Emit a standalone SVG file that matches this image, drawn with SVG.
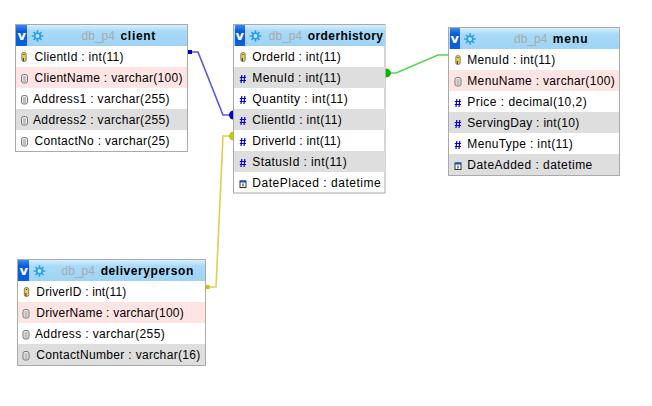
<svg xmlns="http://www.w3.org/2000/svg" xmlns:xlink="http://www.w3.org/1999/xlink" width="652" height="406" viewBox="0 0 652 406">
<style>
text{font-family:"Liberation Sans",Arial,sans-serif;font-size:12px;fill:#000}
.b{fill:#fff;stroke:#aaa;stroke-width:1}
.h{fill:url(#hg)}
.db{fill:#aaa}
.tn{font-weight:bold}
.pink{fill:#ffe4e4}
.grey{fill:#dedede}
.vb{fill:url(#vg)}
.v{font-family:"DejaVu Sans",sans-serif;font-size:13px;font-weight:bold;fill:#fff}
.c{fill:none;stroke-width:1.6;stroke-opacity:.7}
</style>
<defs>
<linearGradient id="hg" x1="0" y1="0" x2="0" y2="1"><stop offset="0" stop-color="#d8effc"/><stop offset=".3" stop-color="#a8daf8"/><stop offset="1" stop-color="#9fd3f5"/></linearGradient>
<linearGradient id="vg" x1="0" y1="0" x2="0" y2="1"><stop offset="0" stop-color="#3a8cf0"/><stop offset=".3" stop-color="#0a5ad8"/><stop offset="1" stop-color="#0a60e0"/></linearGradient>
<g id="gear"><path d="M0-5.800V5.800M-5.800 0H5.800M-4-4 4 4M-4 4 4-4" stroke="#2a9ee8" stroke-width="1.600"/><circle r="3.600" fill="#2a9ee8"/><circle r="1.900" fill="#bfe6fb"/></g>
<g id="key"><rect x="-2.200" y="-4.500" width="4.400" height="9" rx="1.800" fill="#e6d23c" stroke="#666" stroke-width=".8"/><path d="M-.6-2.500H.6M-.6 1V4" stroke="#333" stroke-width="1" fill="none"/></g>
<g id="doc"><rect x="-3" y="-4" width="6" height="8.500" rx="2" fill="#eee" stroke="#777" stroke-width="1"/><path d="M-1.500-1.500H1.500M-1.500 .5H1.500M-1.500 2.500H1.500" stroke="#777" stroke-width=".8"/></g>
<g id="cal"><rect x="-3" y="-3" width="6" height="6.500" fill="#fff" stroke="#333" stroke-width="1"/><rect x="-3" y="-3.500" width="6" height="2" fill="#1a4fc0"/><path d="M0-.5V2.500" stroke="#222" stroke-width="1"/></g>
<path id="hs" d="M-1.200-4-2 4M1.800-4 1 4M-3.200-1.500H3M-3.200 1.500H3" stroke="#0000e6" stroke-width="1.200" fill="none"/>
</defs>
<rect width="652" height="406" fill="#fff"/>
<g id="connectors">
<path class="c" stroke="#1010d0" d="M190 52H198L223 115H233"/>
<rect x="188" y="50" width="4" height="4" fill="#0000c8"/>
<path d="M233.500 110.500A4.500 4.500 0 0 0 233.500 119.500Z" fill="#0000d0"/>
<path class="c" stroke="#c8c000" d="M208 287H216L223 136H233"/>
<rect x="206" y="285" width="3.500" height="4" fill="#c8c000"/>
<path d="M233.500 131.500A4.500 4.500 0 0 0 233.500 140.500Z" fill="#c8c800"/>
<path class="c" stroke="#10c010" d="M390 73H396L438 55H449"/>
<path d="M385.500 68.500A5.500 4.500 0 0 1 385.500 77.500Z" fill="#00b800"/>
</g>
<g id="client">
<rect class="b" x="15.500" y="24.500" width="172" height="127"/>
<rect class="h" x="16" y="25" width="171" height="21"/>
<rect class="vb" x="16" y="25" width="11" height="21"/><text class="v" x="17.500" y="40">v</text>
<use xlink:href="#gear" x="37.500" y="36"/>
<text class="db" x="81.500" y="40" textLength="33.500">db_p4</text><text class="tn" x="120.500" y="40" textLength="34.800">client</text>
<rect class="pink" x="16" y="67" width="171" height="21"/>
<rect class="grey" x="16" y="109" width="171" height="21"/>
<use xlink:href="#key" x="24" y="57"/><use xlink:href="#doc" x="24.500" y="78.500"/><use xlink:href="#doc" x="24.500" y="99.500"/><use xlink:href="#doc" x="24.500" y="120.500"/><use xlink:href="#doc" x="24.500" y="141.500"/>
<text x="34.500" y="61" textLength="89">ClientId : int(11)</text>
<text x="34.500" y="82" textLength="148">ClientName : varchar(100)</text>
<text x="33" y="103" textLength="136.500">Address1 : varchar(255)</text>
<text x="33" y="124" textLength="136.500">Address2 : varchar(255)</text>
<text x="34.500" y="145" textLength="135">ContactNo : varchar(25)</text>
</g>
<g id="orderhistory">
<rect class="b" x="233.500" y="24.500" width="151.500" height="168.500"/>
<rect class="h" x="234" y="25" width="151" height="21"/>
<rect class="vb" x="235" y="25" width="10" height="21"/><text class="v" x="235.500" y="40">v</text>
<use xlink:href="#gear" x="255.500" y="36"/>
<text class="db" x="268.700" y="40" textLength="33.500">db_p4</text><text class="tn" x="307.700" y="40" textLength="75.300">orderhistory</text>
<rect class="grey" x="234" y="67" width="151" height="21"/>
<rect class="grey" x="234" y="109" width="151" height="21"/>
<rect class="grey" x="234" y="151" width="151" height="21"/>
<use xlink:href="#key" x="243" y="57"/>
<use xlink:href="#hs" x="243" y="79"/><use xlink:href="#hs" x="243" y="100"/><use xlink:href="#hs" x="243" y="121"/><use xlink:href="#hs" x="243" y="142"/><use xlink:href="#hs" x="243" y="163"/>
<use xlink:href="#cal" x="243" y="184"/>
<text x="252.300" y="61" textLength="88.400">OrderId : int(11)</text>
<text x="252.300" y="82" textLength="88.400">MenuId : int(11)</text>
<text x="252.300" y="103" textLength="95.400">Quantity : int(11)</text>
<text x="252.300" y="124" textLength="89.400">ClientId : int(11)</text>
<text x="252.300" y="145" textLength="88.400">DriverId : int(11)</text>
<text x="252.300" y="166" textLength="94.400">StatusId : int(11)</text>
<text x="252.300" y="187" textLength="128.400">DatePlaced : datetime</text>
</g>
<g id="menu">
<rect class="b" x="448.500" y="27.500" width="171" height="148"/>
<rect class="h" x="449" y="28" width="170" height="21"/>
<rect class="vb" x="450" y="28" width="10" height="21"/><text class="v" x="450.500" y="43">v</text>
<use xlink:href="#gear" x="470" y="39"/>
<text class="db" x="514" y="43" textLength="33.500">db_p4</text><text class="tn" x="552.700" y="43" textLength="35">menu</text>
<rect class="pink" x="449" y="70" width="170" height="21"/>
<rect class="grey" x="449" y="112" width="170" height="21"/>
<rect class="grey" x="449" y="154" width="170" height="21"/>
<use xlink:href="#key" x="458" y="60"/><use xlink:href="#doc" x="458" y="81.500"/>
<use xlink:href="#hs" x="458" y="103"/><use xlink:href="#hs" x="458" y="124"/><use xlink:href="#hs" x="458" y="145"/>
<use xlink:href="#cal" x="458" y="166"/>
<text x="467.300" y="64" textLength="88">MenuId : int(11)</text>
<text x="467.300" y="85" textLength="147.400">MenuName : varchar(100)</text>
<text x="467.300" y="106" textLength="119.400">Price : decimal(10,2)</text>
<text x="467.300" y="127" textLength="112">ServingDay : int(10)</text>
<text x="467.300" y="148" textLength="105.400">MenuType : int(11)</text>
<text x="467.300" y="169" textLength="125">DateAdded : datetime</text>
</g>
<g id="deliveryperson">
<rect class="b" x="17.500" y="259.500" width="188" height="106"/>
<rect class="h" x="18" y="260" width="187" height="21"/>
<rect class="vb" x="18" y="260" width="11" height="21"/><text class="v" x="19.500" y="275">v</text>
<use xlink:href="#gear" x="39.500" y="271"/>
<text class="db" x="61.500" y="275" textLength="33.500">db_p4</text><text class="tn" x="100.700" y="275" textLength="92.600">deliveryperson</text>
<rect class="pink" x="18" y="302" width="187" height="21"/>
<rect class="grey" x="18" y="344" width="187" height="21"/>
<use xlink:href="#key" x="26.500" y="292"/><use xlink:href="#doc" x="26" y="313.500"/><use xlink:href="#doc" x="26" y="334.500"/><use xlink:href="#doc" x="26" y="355.500"/>
<text x="36.300" y="296" textLength="90">DriverID : int(11)</text>
<text x="36.300" y="317" textLength="147.400">DriverName : varchar(100)</text>
<text x="35" y="338" textLength="129.700">Address : varchar(255)</text>
<text x="36.300" y="359" textLength="164">ContactNumber : varchar(16)</text>
</g>
</svg>
